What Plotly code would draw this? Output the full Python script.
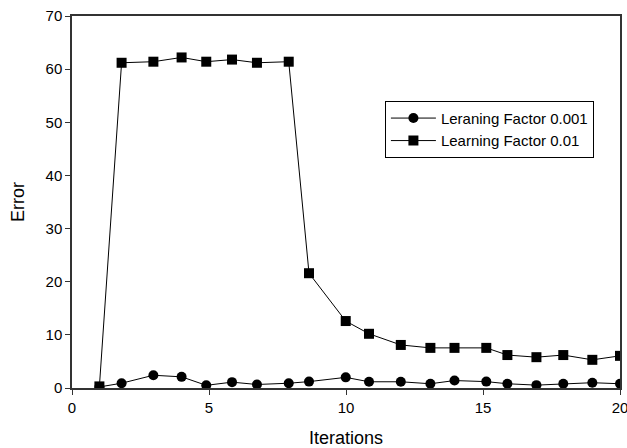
import plotly.graph_objects as go

# Iteration positions and error values for the two learning factors
iterations = [1.0, 1.81, 2.97, 4.0, 4.9, 5.84, 6.75, 7.91, 8.65, 9.99,
              10.84, 12.0, 13.08, 13.96, 15.12, 15.89, 16.95, 17.93, 18.99, 20.0]
error_lf_0001 = [0.2, 0.9, 2.4, 2.1, 0.5, 1.1, 0.66, 0.9, 1.2, 2.0,
                 1.17, 1.17, 0.8, 1.4, 1.2, 0.8, 0.54, 0.8, 1.0, 0.8]
error_lf_001 = [0.3, 61.2, 61.4, 62.2, 61.4, 61.8, 61.2, 61.4, 21.6, 12.6,
                10.2, 8.1, 7.55, 7.55, 7.55, 6.2, 5.8, 6.2, 5.3, 6.05]

x_ticks = [0, 5, 10, 15, 20]
y_ticks = [0, 10, 20, 30, 40, 50, 60, 70]

FONT = "Arial, Liberation Sans, sans-serif"

fig = go.Figure()
fig.add_trace(go.Scatter(
    x=iterations, y=error_lf_0001, mode="lines+markers",
    name="Leraning Factor 0.001",
    line=dict(color="black", width=1),
    marker=dict(symbol="circle", size=10, color="black"),
))
fig.add_trace(go.Scatter(
    x=iterations, y=error_lf_001, mode="lines+markers",
    name="Learning Factor 0.01",
    line=dict(color="black", width=1),
    marker=dict(symbol="square", size=10, color="black"),
))

axis_common = dict(
    showline=True, linecolor="#333333", linewidth=1.5, mirror=True,
    showgrid=False, zeroline=False, automargin=False,
    ticks="outside", ticklen=5, tickwidth=1, tickcolor="#333333",
    tickfont=dict(family=FONT, size=15, color="black"),
    ticklabeloverflow="allow",
)

fig.update_layout(
    width=627, height=448,
    margin=dict(l=72, r=7, t=16, b=60),
    paper_bgcolor="white", plot_bgcolor="white",
    font=dict(family=FONT, color="black"),
    showlegend=True,
    legend=dict(
        x=0.571, y=0.772, xanchor="left", yanchor="top",
        bordercolor="black", borderwidth=1, bgcolor="white",
        font=dict(family=FONT, size=15, color="black"),
        tracegroupgap=0, itemwidth=45,
    ),
    xaxis=dict(range=[0, 20], tickvals=x_ticks,
               title=dict(text="Iterations", font=dict(family=FONT, size=18), standoff=19),
               **axis_common),
    yaxis=dict(range=[0, 70], tickvals=y_ticks,
               title=dict(text="Error", font=dict(family=FONT, size=18), standoff=16),
               **axis_common),
)

fig.write_html("out.html")
